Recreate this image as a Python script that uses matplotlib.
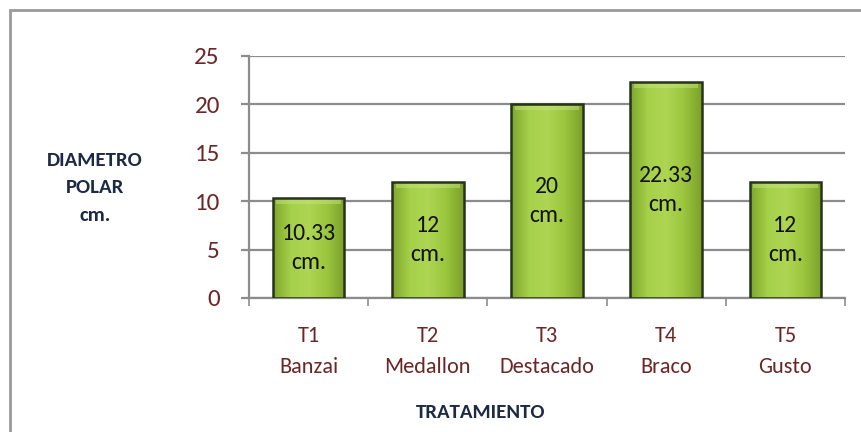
import numpy as np
import matplotlib
matplotlib.use('Agg')
import matplotlib.pyplot as plt
from matplotlib.colors import LinearSegmentedColormap
from matplotlib.patches import Rectangle

# data
tratamientos = ['T1\nBanzai', 'T2\nMedallon', 'T3\nDestacado', 'T4\nBraco', 'T5\nGusto']
diametro = [10.33, 12, 20, 22.33, 12]
etiquetas = ['10.33\ncm.', '12\ncm.', '20\ncm.', '22.33\ncm.', '12\ncm.']
yticks = [0, 5, 10, 15, 20, 25]

plt.rcParams['font.family'] = ['Carlito', 'DejaVu Sans']

fig = plt.figure(figsize=(8.62, 4.32), dpi=100)
ax = fig.add_axes([0.2889, 0.3102, 0.6914, 0.5602])

# outer frame of the chart area
fig.patches.append(Rectangle((10 / 862, -0.05), 1.0, 1 - 10 / 432 + 0.05,
                             transform=fig.transFigure, fill=False,
                             edgecolor='#9a9a9a', linewidth=2))

x = np.arange(len(diametro))
bars = ax.bar(x, diametro, width=0.6, color='#96c43c', edgecolor='#26331c',
              linewidth=1.8, zorder=3)

# horizontal green gradient inside every bar
verde = LinearSegmentedColormap.from_list('verde', ['#7fa62c', '#a6d14a', '#aed553', '#9cc63e', '#7ba02a'])
grad = np.linspace(0, 1, 100).reshape(1, -1)
for b in bars:
    x0, y0 = b.get_x(), b.get_y()
    w, h = b.get_width(), b.get_height()
    im = ax.imshow(grad, cmap=verde, aspect='auto', extent=(x0, x0 + w, y0, y0 + h),
                   zorder=3.5, interpolation='bicubic')
    im.set_clip_path(b)
    # lighter bevel on top
    ax.add_patch(Rectangle((x0 + 0.03, y0 + h - 0.6), w - 0.06, 0.45, color='#c4e47a',
                           alpha=0.5, linewidth=0, zorder=3.6))
    b.set_facecolor('none')
    b.set_zorder(4)

for xi, v, t in zip(x, diametro, etiquetas):
    ax.text(xi, v / 2, t, ha='center', va='center', fontsize=17, color='#111111',
            linespacing=1.5, zorder=5)

ax.set_xlim(-0.5, len(diametro) - 0.5)
ax.set_ylim(0, 25)
ax.set_yticks(yticks)
ax.set_yticklabels([str(t) for t in yticks])
ax.set_xticks(x)
ax.set_xticklabels(tratamientos)
ax.set_xticks(np.arange(-0.5, len(diametro), 1), minor=True)

ax.yaxis.grid(True, color='#8c8c8c', linewidth=1.6, zorder=0)
ax.set_axisbelow(True)
for s in ['top', 'right']:
    ax.spines[s].set_visible(False)
ax.spines['left'].set_color('#8c8c8c')
ax.spines['bottom'].set_color('#8c8c8c')
ax.spines['left'].set_linewidth(1.6)
ax.spines['bottom'].set_linewidth(1.6)

ax.tick_params(axis='y', length=6, width=1.6, color='#8c8c8c', pad=15,
               labelsize=18, labelcolor='#6b2626')
ax.tick_params(axis='x', which='major', length=0, pad=20, labelsize=16,
               labelcolor='#6b2626')
ax.tick_params(axis='x', which='minor', length=6, width=1.2, color='#8c8c8c')
for lab in ax.get_xticklabels():
    lab.set_linespacing(1.7)

fig.text(95 / 862, 1 - 188 / 432, 'DIAMETRO\nPOLAR\ncm.', ha='center', va='center',
         fontsize=15, fontweight='bold', color='#1c2a44', linespacing=1.75)
fig.text(481 / 862, 1 - 412 / 432, 'TRATAMIENTO', ha='center', va='center',
         fontsize=15, fontweight='bold', color='#1c2a44')

fig.savefig('out.png', dpi=100)
